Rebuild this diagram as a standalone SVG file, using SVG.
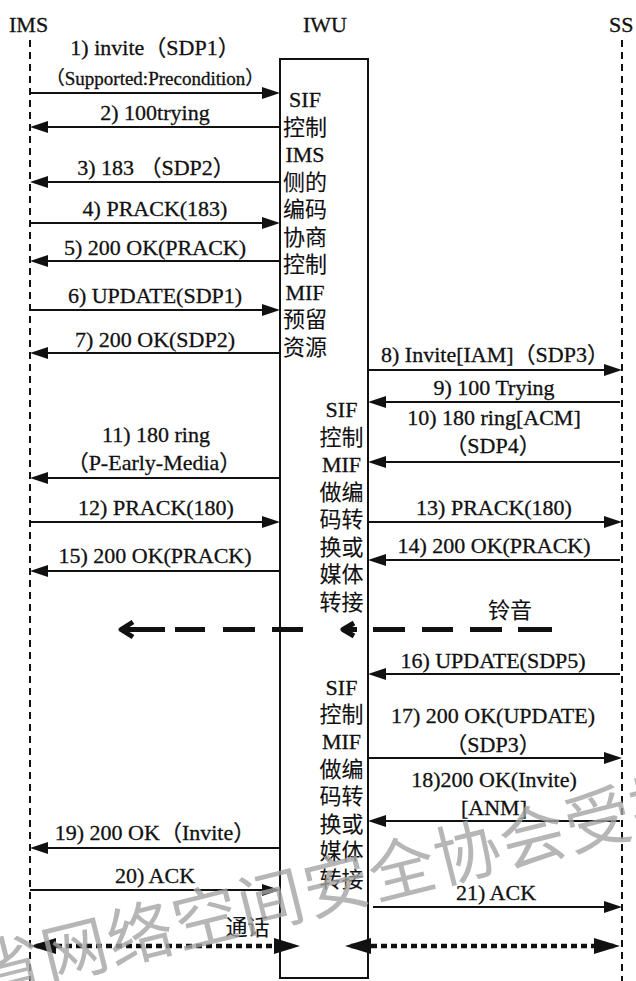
<svg xmlns="http://www.w3.org/2000/svg" width="636" height="981" viewBox="0 0 636 981">
<style>
text{font-family:'Liberation Serif','Noto Sans CJK SC',serif;fill:#111;stroke:#111;stroke-width:0.3}
.t{font-size:22px}
.lbl{font-size:22px;text-anchor:middle}
.sm{font-size:19px;text-anchor:middle}
.cj{font-family:'Noto Sans CJK SC',sans-serif;font-size:22px;text-anchor:middle;stroke-width:0.1}
.col{font-size:22px;text-anchor:middle}
.life{stroke:#111;stroke-width:2;stroke-dasharray:7 5;fill:none}
.msg{stroke:#111;stroke-width:2;fill:none;marker-end:url(#ah)}
.ring{stroke:#111;stroke-width:5;fill:none;stroke-linecap:butt;stroke-linejoin:round}
.talk{stroke:#111;stroke-width:4.5;stroke-dasharray:6 4;fill:none;marker-start:url(#bh);marker-end:url(#bh)}
.wm{font-family:'Noto Sans CJK SC',sans-serif;font-size:66px;fill:#a4a4a4;fill-opacity:0.8;stroke:none;letter-spacing:1.4px}
</style>
<defs>
<marker id="ah" viewBox="0 0 18 12" refX="10" refY="6" markerWidth="18" markerHeight="12" markerUnits="userSpaceOnUse" orient="auto">
<path d="M0,0 L18,6 L0,12 z" fill="#111"/>
</marker>
<marker id="bh" viewBox="0 0 26 16" refX="20" refY="8" markerWidth="26" markerHeight="16" markerUnits="userSpaceOnUse" orient="auto-start-reverse">
<path d="M0,0 L26,8 L0,16 z" fill="#111"/>
</marker>
</defs>
<rect width="636" height="981" fill="#fff"/>

<g id="IMS">
<text class="t" x="9" y="32">IMS</text>
<line class="life" x1="30" y1="40" x2="30" y2="981"/>
</g>
<g id="SS">
<text class="t" x="609" y="32">SS</text>
<line class="life" x1="622" y1="40" x2="622" y2="981"/>
</g>
<g id="IWU">
<text class="t" x="303" y="32">IWU</text>
<rect x="280" y="59" width="88" height="919" fill="none" stroke="#111" stroke-width="2"/>
<text class="col" x="305" y="107">SIF</text>
<text class="cj" x="305" y="134.5">控制</text>
<text class="col" x="305" y="162">IMS</text>
<text class="cj" x="305" y="189.5">侧的</text>
<text class="cj" x="305" y="217">编码</text>
<text class="cj" x="305" y="244.5">协商</text>
<text class="cj" x="305" y="272">控制</text>
<text class="col" x="305" y="299.5">MIF</text>
<text class="cj" x="305" y="327">预留</text>
<text class="cj" x="305" y="354.5">资源</text>

<text class="col" x="341.5" y="417">SIF</text>
<text class="cj" x="341.5" y="444.5">控制</text>
<text class="col" x="341.5" y="472">MIF</text>
<text class="cj" x="341.5" y="499.5">做编</text>
<text class="cj" x="341.5" y="527">码转</text>
<text class="cj" x="341.5" y="554.5">换或</text>
<text class="cj" x="341.5" y="582">媒体</text>
<text class="cj" x="341.5" y="610">转接</text>

<text class="col" x="341.5" y="695">SIF</text>
<text class="cj" x="341.5" y="722">控制</text>
<text class="col" x="341.5" y="749">MIF</text>
<text class="cj" x="341.5" y="776.5">做编</text>
<text class="cj" x="341.5" y="804">码转</text>
<text class="cj" x="341.5" y="831.5">换或</text>
<text class="cj" x="341.5" y="859">媒体</text>
<text class="cj" x="341.5" y="886.5">转接</text>
</g>

<g id="connectors">
<line class="msg" x1="30" y1="93" x2="272" y2="93"/>
<line class="msg" x1="280" y1="127" x2="38" y2="127"/>
<line class="msg" x1="280" y1="182" x2="38" y2="182"/>
<line class="msg" x1="30" y1="223" x2="272" y2="223"/>
<line class="msg" x1="280" y1="261" x2="38" y2="261"/>
<line class="msg" x1="30" y1="310" x2="272" y2="310"/>
<line class="msg" x1="280" y1="353" x2="38" y2="353"/>
<line class="msg" x1="368" y1="370" x2="614" y2="370"/>
<line class="msg" x1="620" y1="402" x2="376" y2="402"/>
<line class="msg" x1="620" y1="462" x2="376" y2="462"/>
<line class="msg" x1="280" y1="478" x2="38" y2="478"/>
<line class="msg" x1="30" y1="522" x2="272" y2="522"/>
<line class="msg" x1="368" y1="522" x2="614" y2="522"/>
<line class="msg" x1="620" y1="560" x2="376" y2="560"/>
<line class="msg" x1="280" y1="571" x2="38" y2="571"/>
<line class="msg" x1="620" y1="674" x2="376" y2="674"/>
<line class="msg" x1="368" y1="758" x2="614" y2="758"/>
<line class="msg" x1="620" y1="821" x2="376" y2="821"/>
<line class="msg" x1="280" y1="848" x2="38" y2="848"/>
<line class="msg" x1="30" y1="890" x2="272" y2="890"/>
<line class="msg" x1="373" y1="907" x2="614" y2="907"/>

<path class="ring" d="M133,622 L121,629.5 L133,637 M121,629.5 H165 M175,629.5 H205 M223,629.5 H255 M272,629.5 H303"/>
<path class="ring" d="M354,623 L343,629.5 L354,636 M343,629.5 H357 M373,629.5 H405 M422,629.5 H453 M470,629.5 H502 M518,629.5 H552"/>

<line class="talk" x1="36" y1="946" x2="294" y2="946"/>
<line class="talk" x1="351" y1="946" x2="614" y2="946"/>
</g>

<g id="labels">
<text class="lbl" x="155" y="55">1) invite（SDP1）</text>
<text class="sm" x="155" y="85">（Supported:Precondition）</text>
<text class="lbl" x="155" y="120">2) 100trying</text>
<text class="lbl" x="156" y="175">3) 183 （SDP2）</text>
<text class="lbl" x="155" y="216">4) PRACK(183)</text>
<text class="lbl" x="155" y="255">5) 200 OK(PRACK)</text>
<text class="lbl" x="155" y="303">6) UPDATE(SDP1)</text>
<text class="lbl" x="155" y="347">7) 200 OK(SDP2)</text>
<text class="lbl" x="495" y="362">8) Invite[IAM]（SDP3）</text>
<text class="lbl" x="494" y="395">9) 100 Trying</text>
<text class="lbl" x="494" y="425">10) 180 ring[ACM]</text>
<text class="lbl" x="493" y="453">（SDP4）</text>
<text class="lbl" x="156" y="442">11) 180 ring</text>
<text class="lbl" x="154" y="470">（P-Early-Media）</text>
<text class="lbl" x="156" y="515">12) PRACK(180)</text>
<text class="lbl" x="494" y="515">13) PRACK(180)</text>
<text class="lbl" x="494" y="553">14) 200 OK(PRACK)</text>
<text class="lbl" x="155" y="563">15) 200 OK(PRACK)</text>
<text class="cj" x="510" y="617.5">铃音</text>
<text class="lbl" x="493" y="668">16) UPDATE(SDP5)</text>
<text class="lbl" x="493" y="723">17) 200 OK(UPDATE)</text>
<text class="lbl" x="493" y="752">（SDP3）</text>
<text class="lbl" x="494" y="787">18)200 OK(Invite)</text>
<text class="lbl" x="494" y="815">[ANM]</text>
<text class="lbl" x="155" y="840">19) 200 OK（Invite）</text>
<text class="lbl" x="155" y="883">20) ACK</text>
<text class="lbl" x="496" y="900">21) ACK</text>
<text class="cj" x="247.5" y="935">通话</text>
</g>

<text class="wm" transform="translate(-17,998) rotate(-14)">省网络空间安全协会受控</text>
</svg>
